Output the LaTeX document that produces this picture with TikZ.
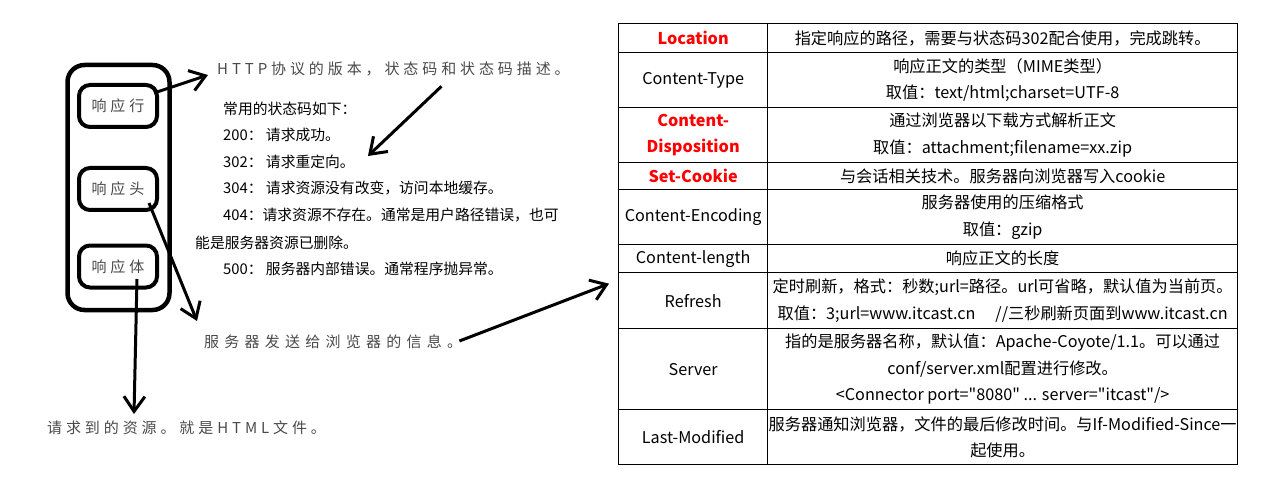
\documentclass[tikz,border=0pt]{standalone}
\usepackage{fontspec}
\setmainfont{Noto Sans CJK SC}
\newfontfamily\cjksp[LetterSpace=26]{Noto Sans CJK SC}
\newfontfamily\cjkspw[LetterSpace=35]{Noto Sans CJK SC}
\usetikzlibrary{arrows.meta}
\definecolor{graytxt}{HTML}{4A4A4A}
\definecolor{hdrred}{HTML}{FF0000}
\newcommand\dq{\XeTeXglyph\XeTeXcharglyph"22\relax}
\begin{document}
\begin{tikzpicture}[x=1pt,y=-1pt,
  gtxt/.style={inner sep=0pt, text=graytxt, font=\cjksp\fontsize{15}{18}\selectfont},
  gtxtw/.style={inner sep=0pt, text=graytxt, font=\cjkspw\fontsize{15}{18}\selectfont},
  stxt/.style={inner sep=0pt, anchor=west, font=\fontsize{14.8}{18}\selectfont},
  ibox/.style={draw, line width=4pt, rounded corners=11pt, minimum width=78pt, minimum height=42pt, inner sep=0pt, text=graytxt, font=\cjksp\fontsize{15}{18}\selectfont},
  obox/.style={draw, line width=4.5pt, rounded corners=17pt, minimum width=102pt, minimum height=245pt, inner sep=0pt},
  arr/.style={line width=3pt, -{Straight Barb[length=15pt,width=21pt]}},
  cellL/.style={draw, line width=1.3pt, anchor=north west, minimum width=149pt, inner sep=0pt, align=center, font=\fontsize{16.2}{26.5}\selectfont},
  cellR/.style={draw, line width=1.3pt, anchor=north west, minimum width=470pt, inner sep=0pt, align=center, font=\fontsize{16.2}{26.5}\selectfont},
  hdr/.style={text=hdrred, font=\bfseries\fontsize{16.2}{26.5}\selectfont}
]
\fill[white] (0,0) rectangle (1266,481);
\useasboundingbox (0,0) rectangle (1266,481);

% left structure
\node[obox] (outer) at (118.5,187.5) {};
\node[ibox] (line) at (118,106) {响应行};
\node[ibox] (head) at (118,189) {响应头};
\node[ibox] (body) at (118,266.5) {响应体};

% annotations
\node[gtxt, anchor=west] (http) at (217,69) {HTTP协议的版本，状态码和状态码描述。};
\node[gtxtw, anchor=west] (info) at (204,342) {服务器发送给浏览器的信息。};
\node[gtxt, anchor=west] (res) at (47,428) {请求到的资源。就是HTML文件。};

\node[stxt] (s0) at (223,109) {常用的状态码如下：};
\node[stxt] (s1) at (223,135) {200： 请求成功。};
\node[stxt] (s2) at (223,162) {302： 请求重定向。};
\node[stxt] (s3) at (223,188) {304： 请求资源没有改变，访问本地缓存。};
\node[stxt] (s4) at (223,215) {404：请求资源不存在。通常是用户路径错误，也可};
\node[stxt] (s5) at (195,243) {能是服务器资源已删除。};
\node[stxt] (s6) at (223,269) {500： 服务器内部错误。通常程序抛异常。};

% table
\node[cellL, minimum height=29pt, hdr] (L1) at (618,23) {Location};
\node[cellR, minimum height=29pt] (R1) at (767,23) {指定响应的路径，需要与状态码302配合使用，完成跳转。};
\node[cellL, minimum height=55pt] (L2) at (618,52) {Content-Type};
\node[cellR, minimum height=55pt] (R2) at (767,52) {响应正文的类型（MIME类型）\\取值：text/html;charset=UTF-8};
\node[cellL, minimum height=55pt, hdr] (L3) at (618,107) {Content-\\Disposition};
\node[cellR, minimum height=55pt] (R3) at (767,107) {通过浏览器以下载方式解析正文\\取值：attachment;filename=xx.zip};
\node[cellL, minimum height=27pt, hdr] (L4) at (618,162) {Set-Cookie};
\node[cellR, minimum height=27pt] (R4) at (767,162) {与会话相关技术。服务器向浏览器写入cookie};
\node[cellL, minimum height=55pt] (L5) at (618,189) {Content-Encoding};
\node[cellR, minimum height=55pt] (R5) at (767,189) {服务器使用的压缩格式\\取值：gzip};
\node[cellL, minimum height=28pt] (L6) at (618,244) {Content-length};
\node[cellR, minimum height=28pt] (R6) at (767,244) {响应正文的长度};
\node[cellL, minimum height=56pt] (L7) at (618,272) {Refresh};
\node[cellR, minimum height=56pt] (R7) at (767,272) {定时刷新，格式：秒数;url=路径。url可省略，默认值为当前页。\\取值：3;url=www.itcast.cn\quad\ //三秒刷新页面到www.itcast.cn};
\node[cellL, minimum height=81pt] (L8) at (618,328) {Server};
\node[cellR, minimum height=81pt] (R8) at (767,328) {指的是服务器名称，默认值：Apache-Coyote/1.1。可以通过\\conf/server.xml配置进行修改。\\<Connector port=\dq8080\dq\ ... server=\dq itcast\dq/>};
\node[cellL, minimum height=55pt] (L9) at (618,409) {Last-Modified};
\node[cellR, minimum height=55pt] (R9) at (767,409) {服务器通知浏览器，文件的最后修改时间。与If-Modified-Since一\\起使用。};

% arrows
\draw[arr] ([xshift=-5pt,yshift=13pt]line.east) -- ([xshift=-9pt,yshift=-6pt]http.west);
\draw[arr] ([xshift=48pt,yshift=-10pt]http.south) -- ([xshift=13pt,yshift=6pt]s2.east);
\draw[arr] ([xshift=-10pt,yshift=-14pt]head.east) -- ([xshift=-7pt,yshift=21pt]info.west);
\draw[arr] ([xshift=19pt,yshift=-12.5pt]body.center) -- ([xshift=87pt,yshift=14pt]res.west);
\draw[arr] ([xshift=-3pt,yshift=1pt]info.east) -- ([xshift=-9pt,yshift=17pt]L7.west);
\end{tikzpicture}
\end{document}
